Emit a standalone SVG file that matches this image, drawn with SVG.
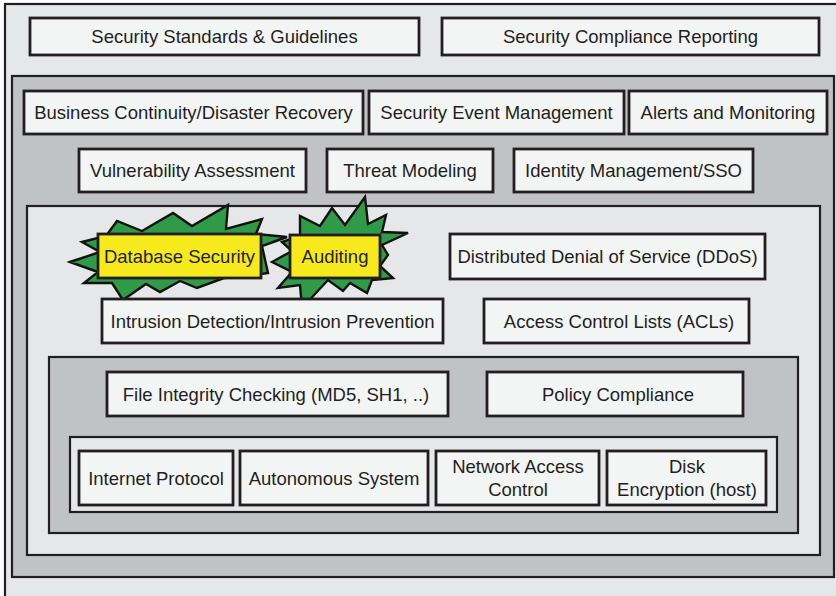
<svg xmlns="http://www.w3.org/2000/svg" width="836" height="596" viewBox="0 0 836 596">
  <style>
    .frame-l { fill: #e6e7e8; stroke: #231f20; stroke-width: 2.2; }
    .frame-d { fill: #c1c2c4; stroke: #231f20; stroke-width: 2.2; }
    .box { fill: #f3f4f4; stroke: #231f20; stroke-width: 2.8; }
    .hot { fill: #f7ea1c; stroke: #231f20; stroke-width: 2.8; }
    .burst { fill: #2f9b48; stroke: #111; stroke-width: 2.4; stroke-linejoin: miter; }
    .lbl { font-family: "Liberation Sans", Arial, sans-serif; font-size: 18.5px; fill: #231f20; text-anchor: middle; }
  </style>

  <!-- nested layers, outermost first -->
  <g id="layers">
    <rect class="frame-l" x="5" y="4" width="840" height="600"/>
    <rect class="frame-d" x="12" y="76" width="822" height="501"/>
    <rect class="frame-l" x="27" y="206" width="793" height="349"/>
    <rect class="frame-d" x="49" y="357" width="749" height="176"/>
    <rect class="frame-l" x="70" y="437" width="707" height="75"/>
  </g>

  <!-- governance row -->
  <g id="standards">
    <rect class="box" x="30" y="18" width="389" height="37"/>
    <text class="lbl" x="224.5" y="43">Security Standards &amp; Guidelines</text>
  </g>
  <g id="compliance-reporting">
    <rect class="box" x="442" y="18" width="377" height="37"/>
    <text class="lbl" x="630.5" y="43">Security Compliance Reporting</text>
  </g>

  <!-- operations layer -->
  <g id="bcdr">
    <rect class="box" x="24" y="91" width="339" height="43"/>
    <text class="lbl" x="193.5" y="119">Business Continuity/Disaster Recovery</text>
  </g>
  <g id="sem">
    <rect class="box" x="369" y="91" width="255" height="43"/>
    <text class="lbl" x="496.5" y="119">Security Event Management</text>
  </g>
  <g id="alerts">
    <rect class="box" x="629" y="91" width="198" height="43"/>
    <text class="lbl" x="728" y="119">Alerts and Monitoring</text>
  </g>
  <g id="vuln">
    <rect class="box" x="79" y="149" width="227" height="43"/>
    <text class="lbl" x="192.5" y="177">Vulnerability Assessment</text>
  </g>
  <g id="threat">
    <rect class="box" x="327" y="149" width="166" height="43"/>
    <text class="lbl" x="410" y="177">Threat Modeling</text>
  </g>
  <g id="identity">
    <rect class="box" x="514" y="149" width="239" height="43"/>
    <text class="lbl" x="633.5" y="177">Identity Management/SSO</text>
  </g>

  <!-- highlighted items with starbursts -->
  <g id="database-security">
    <polygon class="burst" points="70,262 100,252 82,242 106,236 117,221 142,231 173,213 192,226 228,205 226,229 262,219 256,234 287,237 262,246 268,273 248,276 224,278 197,288 180,281 160,292 146,284 123,300 112,283 84,283 98,272"/>
    <rect class="hot" x="98" y="234" width="163" height="44"/>
    <text class="lbl" x="179.5" y="263">Database Security</text>
  </g>
  <g id="auditing">
    <polygon class="burst" points="272,262 292,251 282,242 300,236 300,216 320,226 332,208 345,225 365,197 368,224 386,215 382,232 408,233 382,245 388,255 380,266 393,278 372,280 367,293 350,283 343,291 328,280 302,308 300,285 278,288 292,272"/>
    <rect class="hot" x="290" y="235" width="90" height="43"/>
    <text class="lbl" x="335" y="263">Auditing</text>
  </g>

  <!-- network and host layer -->
  <g id="ddos">
    <rect class="box" x="450" y="234" width="315" height="45"/>
    <text class="lbl" x="607.5" y="263">Distributed Denial of Service (DDoS)</text>
  </g>
  <g id="idps">
    <rect class="box" x="102" y="299" width="341" height="44"/>
    <text class="lbl" x="272.5" y="328">Intrusion Detection/Intrusion Prevention</text>
  </g>
  <g id="acls">
    <rect class="box" x="484" y="299" width="265" height="44"/>
    <text class="lbl" x="619" y="328">Access Control Lists (ACLs)</text>
  </g>
  <g id="file-integrity">
    <rect class="box" x="107" y="372" width="341" height="44"/>
    <text class="lbl" x="276" y="401">File Integrity Checking (MD5, SH1, ..)</text>
  </g>
  <g id="policy">
    <rect class="box" x="487" y="372" width="256" height="44"/>
    <text class="lbl" x="618" y="401">Policy Compliance</text>
  </g>

  <!-- core layer -->
  <g id="ip">
    <rect class="box" x="79" y="451" width="154" height="54"/>
    <text class="lbl" x="156" y="485">Internet Protocol</text>
  </g>
  <g id="as">
    <rect class="box" x="240" y="451" width="188" height="54"/>
    <text class="lbl" x="334" y="485">Autonomous System</text>
  </g>
  <g id="nac">
    <rect class="box" x="436" y="451" width="163" height="54"/>
    <text class="lbl" x="518" y="473">Network Access</text>
    <text class="lbl" x="518" y="496">Control</text>
  </g>
  <g id="disk-encryption">
    <rect class="box" x="607" y="451" width="159" height="54"/>
    <text class="lbl" x="687" y="473">Disk</text>
    <text class="lbl" x="687" y="496">Encryption (host)</text>
  </g>

  <!-- this diagram has no connectors -->
  <g id="connectors"/>
</svg>
